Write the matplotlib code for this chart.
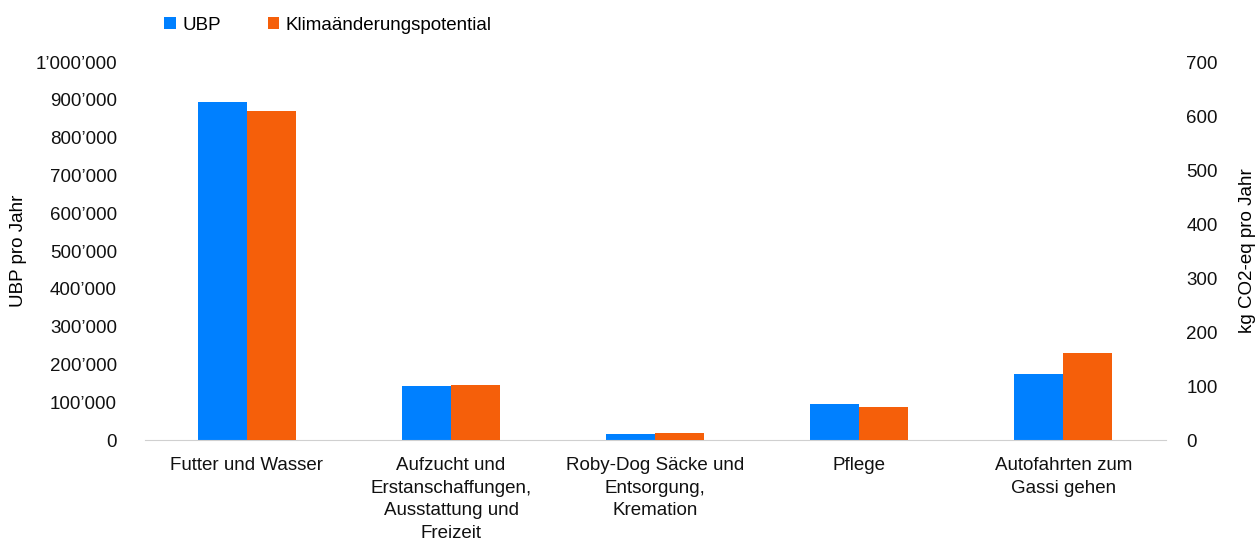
import matplotlib
matplotlib.use("Agg")
import matplotlib.pyplot as plt
import matplotlib.ticker as mticker
import numpy as np

plt.rcParams["font.family"] = ["Liberation Sans", "DejaVu Sans"]

categories = [
    "Futter und Wasser",
    "Aufzucht und\nErstanschaffungen,\nAusstattung und\nFreizeit",
    "Roby-Dog Säcke und\nEntsorgung,\nKremation",
    "Pflege",
    "Autofahrten zum\nGassi gehen",
]
ubp = [895000, 143000, 17000, 95000, 174000]
klima = [610, 102, 14, 62, 161]

BLUE = "#0080FF"
ORANGE = "#F55F0A"
FS = 13.5

fig = plt.figure(figsize=(12.6, 5.44), dpi=100)
ax = fig.add_axes([0.115, 0.191, 0.81, 0.695])
ax2 = ax.twinx()

x = np.arange(len(categories))
w = 0.24
b1 = ax.bar(x - w / 2, ubp, width=w, color=BLUE, label="UBP")
b2 = ax2.bar(x + w / 2, klima, width=w, color=ORANGE, label="Klimaänderungspotential")

ax.set_xlim(-0.5, len(categories) - 0.5)
ax.set_ylim(0, 1000000)
ax2.set_ylim(0, 700)
ax.set_yticks(np.arange(0, 1000001, 100000))
ax2.set_yticks(np.arange(0, 701, 100))
ax.yaxis.set_major_formatter(mticker.FuncFormatter(lambda v, p: f"{int(v):,}".replace(",", "’")))

ax.set_xticks(x)
ax.set_xticklabels(categories, fontsize=FS, linespacing=1.45)
for a in (ax, ax2):
    for s in ("top", "left", "right"):
        a.spines[s].set_visible(False)
    a.spines["bottom"].set_color("#d0d0d0")
    a.tick_params(length=0, labelsize=FS, colors="#111111")
ax2.spines["bottom"].set_visible(False)
ax.tick_params(axis="x", pad=12)
ax.tick_params(axis="y", pad=20)
ax2.tick_params(axis="y", pad=15)

ax.set_ylabel("UBP pro Jahr", fontsize=FS, labelpad=6)
ax2.set_ylabel("kg CO2-eq pro Jahr", fontsize=FS, labelpad=15)

fig.legend(handles=[b1, b2], loc="upper left", bbox_to_anchor=(0.117, 1.0),
           ncol=2, frameon=False, fontsize=FS, handlelength=0.6, handleheight=0.6,
           handletextpad=0.35, columnspacing=2.5)

fig.savefig("out.png", dpi=100)
